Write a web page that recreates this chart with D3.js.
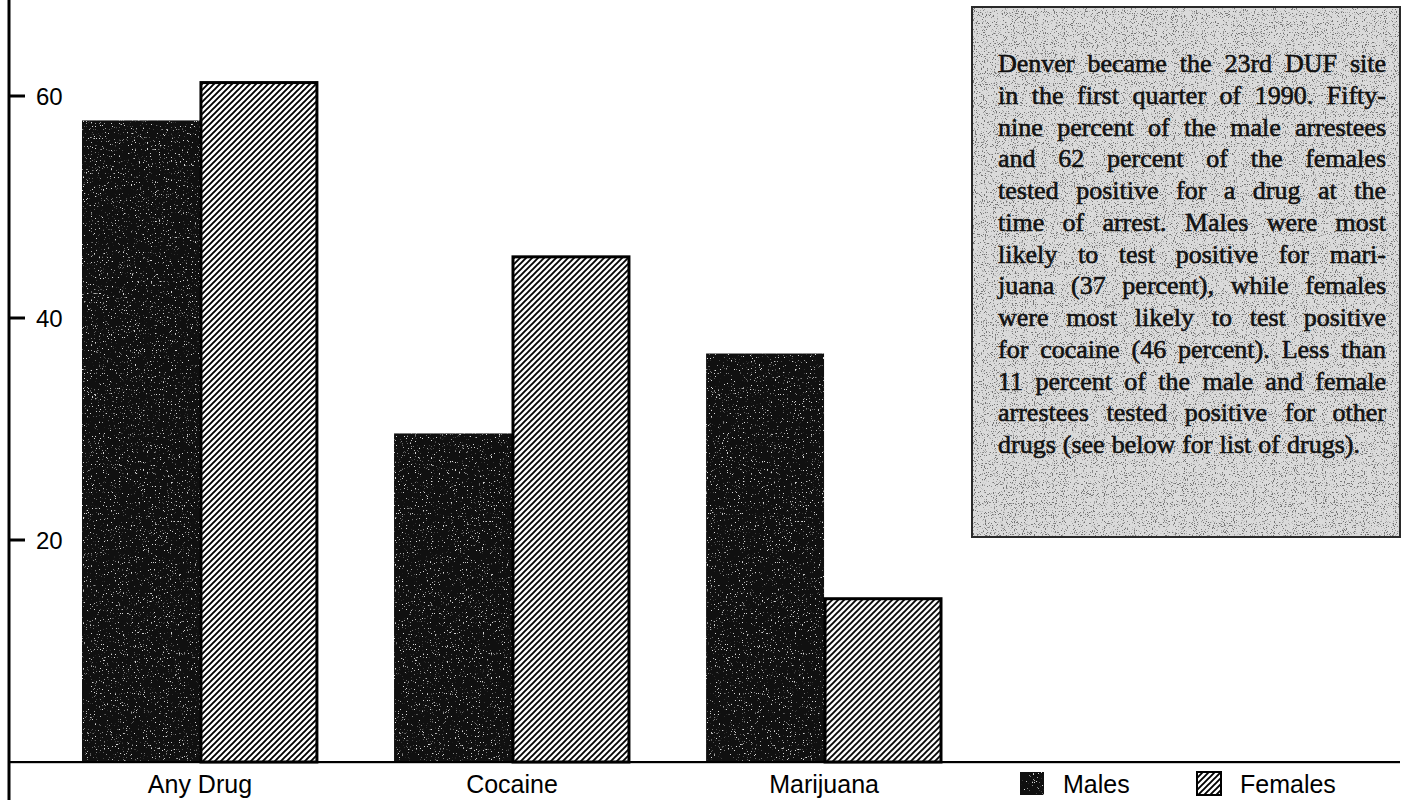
<!DOCTYPE html>
<html>
<head>
<meta charset="utf-8">
<script src="https://cdn.jsdelivr.net/npm/d3@7"></script>
<style>
  html, body { margin: 0; padding: 0; background: #fff; }
  svg { display: block; }
</style>
</head>
<body>
<svg id="chart" width="1408" height="800"></svg>
<script>
// ---- data ----
const categories = ["Any Drug", "Cocaine", "Marijuana"];
const series = ["Males", "Females"];
const males = [57.8, 29.6, 36.8];
const females = [61.3, 45.6, 14.8];
const yTicks = [20, 40, 60];
const noteLines = [
  "Denver became the 23rd DUF site",
  "in the first quarter of 1990. Fifty-",
  "nine percent of the male arrestees",
  "and 62 percent of the females",
  "tested positive for a drug at the",
  "time of arrest. Males were most",
  "likely to test positive for mari-",
  "juana (37 percent), while females",
  "were most likely to test positive",
  "for cocaine (46 percent). Less than",
  "11 percent of the male and female",
  "arrestees tested positive for other",
  "drugs (see below for list of drugs)."
];

const svg = d3.select("#chart");
const defs = svg.append("defs");

// hatch pattern for females
const hatch = defs.append("pattern")
  .attr("id", "hatch").attr("patternUnits", "userSpaceOnUse")
  .attr("width", 6).attr("height", 6);
hatch.append("rect").attr("width", 6).attr("height", 6).attr("fill", "#fff");
hatch.append("path")
  .attr("d", "M-1.5,1.5 L1.5,-1.5 M0,6 L6,0 M4.5,7.5 L7.5,4.5")
  .attr("stroke", "#000").attr("stroke-width", 1.9);

// speckle filter for dark bars
const sp = defs.append("filter").attr("id", "speck")
  .attr("x", "0%").attr("y", "0%").attr("width", "100%").attr("height", "100%")
  .attr("color-interpolation-filters", "sRGB");
sp.append("feTurbulence").attr("type", "fractalNoise").attr("baseFrequency", 0.75)
  .attr("numOctaves", 2).attr("seed", 7).attr("result", "n");
sp.append("feColorMatrix").attr("in", "n").attr("type", "matrix")
  .attr("values", "0 0 0 0 0.85  0 0 0 0 0.85  0 0 0 0 0.85  11 0 0 0 -7.25").attr("result", "d");
sp.append("feComposite").attr("in", "d").attr("in2", "SourceGraphic").attr("operator", "in").attr("result", "dm");
const m1 = sp.append("feMerge");
m1.append("feMergeNode").attr("in", "SourceGraphic");
m1.append("feMergeNode").attr("in", "dm");

// stipple filter for the note box
const st = defs.append("filter").attr("id", "stipple")
  .attr("x", "0%").attr("y", "0%").attr("width", "100%").attr("height", "100%")
  .attr("color-interpolation-filters", "sRGB");
st.append("feTurbulence").attr("type", "fractalNoise").attr("baseFrequency", 0.9)
  .attr("numOctaves", 2).attr("seed", 3).attr("result", "n");
st.append("feColorMatrix").attr("in", "n").attr("type", "matrix")
  .attr("values", "0 0 0 0 0.45  0 0 0 0 0.45  0 0 0 0 0.45  10 0 0 0 -5.9").attr("result", "d");
st.append("feComposite").attr("in", "d").attr("in2", "SourceGraphic").attr("operator", "in").attr("result", "dm");
const m2 = st.append("feMerge");
m2.append("feMergeNode").attr("in", "SourceGraphic");
m2.append("feMergeNode").attr("in", "dm");

// ---- scales ----
const y = d3.scaleLinear().domain([0, 60]).range([762, 96]);
const x0 = d3.scaleBand().domain(categories).range([82, 942]).paddingInner(0.244).paddingOuter(0);
const x1 = d3.scaleBand().domain(series).range([0, x0.bandwidth()]).padding(0);

const rows = categories.map((c, i) => ({ cat: c, Males: males[i], Females: females[i] }));

// ---- bars ----
const g = svg.append("g");
const groups = g.selectAll("g.grp").data(rows).join("g")
  .attr("class", "grp")
  .attr("transform", d => `translate(${x0(d.cat)},0)`);

groups.append("rect")
  .attr("x", x1("Males"))
  .attr("y", d => y(d.Males))
  .attr("width", x1.bandwidth())
  .attr("height", d => y(0) - y(d.Males))
  .attr("fill", "#101010")
  .attr("filter", "url(#speck)");

groups.append("rect")
  .attr("x", x1("Females") + 1)
  .attr("y", d => y(d.Females) + 1)
  .attr("width", x1.bandwidth() - 2)
  .attr("height", d => y(0) - y(d.Females) - 1)
  .attr("fill", "url(#hatch)")
  .attr("stroke", "#000").attr("stroke-width", 3);

// ---- axes ----
const yAxis = d3.axisLeft(y).tickValues(yTicks).tickSize(0).tickPadding(0).tickFormat(d3.format("d"));
const ya = svg.append("g").attr("transform", "translate(9,0)").call(yAxis);
ya.select(".domain").remove();
ya.selectAll(".tick line").remove();
ya.selectAll(".tick text")
  .attr("x", 27).attr("dy", "0.36em")
  .attr("text-anchor", "start")
  .attr("font-family", "'Liberation Sans', Arial, sans-serif")
  .attr("font-size", 24).attr("fill", "#000");

// tick marks drawn straight from the scale (filled rects)
svg.append("g").attr("class", "yticks").selectAll("rect").data(yTicks).join("rect")
  .attr("x", 9).attr("width", 16)
  .attr("y", d => y(d) - 1.5).attr("height", 3)
  .attr("fill", "#000");

svg.append("rect").attr("x", 7.5).attr("y", 0).attr("width", 3).attr("height", 800).attr("fill", "#000");
svg.append("rect").attr("x", 9).attr("y", y(0) - 1).attr("width", 1391).attr("height", 2.2).attr("fill", "#000");

const xAxis = d3.axisBottom(x0).tickSize(0).tickPadding(0);
const xa = svg.append("g").attr("transform", `translate(0,${y(0)})`).call(xAxis);
xa.select(".domain").remove();
xa.selectAll(".tick text")
  .attr("y", 31).attr("dy", 0)
  .attr("font-family", "'Liberation Sans', Arial, sans-serif")
  .attr("font-size", 25).attr("fill", "#000");

// ---- legend ----
const legend = svg.append("g").attr("transform", "translate(0,772)");
const legendItems = [
  { name: "Males", x: 1020, fill: "#101010", filter: "url(#speck)", stroke: "none" },
  { name: "Females", x: 1197, fill: "url(#hatch)", filter: null, stroke: "#000" }
];
const li = legend.selectAll("g").data(legendItems).join("g")
  .attr("transform", d => `translate(${d.x},0)`);
li.append("rect").attr("width", 24).attr("height", 23)
  .attr("fill", d => d.fill).attr("filter", d => d.filter)
  .attr("stroke", d => d.stroke).attr("stroke-width", 2);
li.append("text").attr("x", 43).attr("y", 21)
  .attr("font-family", "'Liberation Sans', Arial, sans-serif")
  .attr("font-size", 25).attr("fill", "#000")
  .text(d => d.name);

// ---- note box ----
const box = { x: 972, y: 7, w: 428, h: 530 };
svg.append("rect").attr("x", box.x).attr("y", box.y).attr("width", box.w).attr("height", box.h)
  .attr("fill", "#dadada").attr("filter", "url(#stipple)");
svg.append("rect").attr("x", box.x).attr("y", box.y).attr("width", box.w).attr("height", box.h)
  .attr("fill", "none").attr("stroke", "#2a2a2a").attr("stroke-width", 2);

const textLeft = 998, textRight = 1386, lh = 31.75, firstBase = 72;
const noteG = svg.append("g")
  .attr("font-family", "'Liberation Serif', 'Times New Roman', serif")
  .attr("font-size", 26).attr("fill", "#111")
  .attr("stroke", "#111").attr("stroke-width", 0.6);
noteLines.forEach((line, i) => {
  const words = line.split(" ");
  const base = firstBase + i * lh;
  const nodes = words.map(w => noteG.append("text").attr("y", base).text(w));
  const widths = nodes.map(n => n.node().getComputedTextLength());
  const total = d3.sum(widths);
  const last = i === noteLines.length - 1;
  const gap = last ? 7 : (words.length > 1 ? (textRight - textLeft - total) / (words.length - 1) : 0);
  let cx = textLeft;
  nodes.forEach((n, k) => { n.attr("x", cx); cx += widths[k] + gap; });
});
</script>
</body>
</html>
